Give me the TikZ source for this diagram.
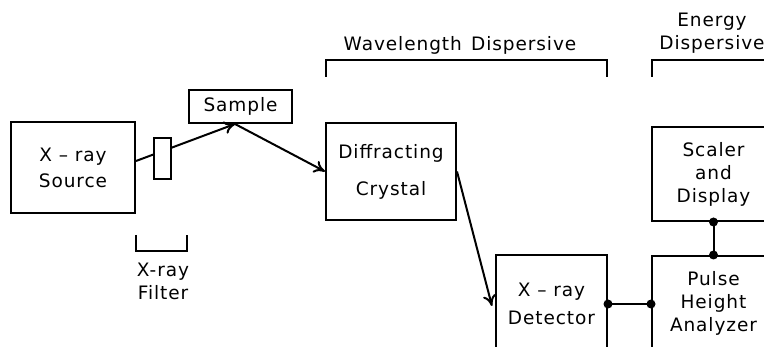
\documentclass[tikz,border=0pt]{standalone}
\usepackage{fontspec}
\setmainfont{DejaVu Sans}[LetterSpace=5]
\usetikzlibrary{arrows.meta}

\begin{document}
\begin{tikzpicture}[x=1pt,y=1pt,yscale=-1,xscale=1,
  line width=2pt,
  font=\fontsize{18.5}{23}\selectfont,
  blk/.style={draw,rectangle,inner sep=0pt,align=center},
  ray/.style={-{To[length=11pt,width=13pt]}},
  dot/.style={circle,fill,inner sep=0pt,minimum size=9pt}]
\clip (0,0) rectangle (764,347);

%Shape: Rectangle [X-ray source]
\node [blk,minimum width=124,minimum height=91] (src) at (73,167.5) {X -- ray\\[3pt]Source};
%Shape: Rectangle [sample]
\node [blk,minimum width=103,minimum height=33] (smp) at (240.5,106.5) {Sample};
%Shape: Rectangle [diffracting crystal]
\node [blk,minimum width=130,minimum height=97] (cry) at (391,171.5) {Diffracting\\[14pt]Crystal};
%Shape: Rectangle [detector]
\node [blk,minimum width=111,minimum height=98] (det) at (551.5,304) {X -- ray\\[5pt]Detector};
%Shape: Rectangle [scaler]
\node [blk,minimum width=123,minimum height=94] (scl) at (713.5,174) {Scaler\\and\\Display};
%Shape: Rectangle [pulse height analyzer]
\node [blk,minimum width=123,minimum height=94] (pha) at (713.5,303) {Pulse\\Height\\Analyzer};
\coordinate (hit) at ([xshift=-5.5pt]smp.south);

%Straight Lines [beam through the filter]
\draw [ray] ([yshift=-6.5pt]src.east) -- (hit);
%Shape: Rectangle [filter]
\node [blk,fill=white,minimum width=17,minimum height=41] (flt) at (162.5,158.5) {};
%Straight Lines
\draw [ray] (hit) -- (cry.west);
%Straight Lines
\draw [ray] (cry.east) -- ([xshift=-3pt,yshift=2pt]det.west);

%Straight Lines [signal]
\draw (det.east) -- (det.east -| pha.west);
\draw (scl.south) -- (pha.north);
\node [dot] (d1) at (det.east) {};
\node [dot] (d2) at (det.east -| pha.west) {};
\node [dot] (d3) at (scl.south) {};
\node [dot] (d4) at (pha.north) {};

%Shape: Brackets
\draw (136,235) -- (136,251) -- (187,251) -- (187,235);
\draw (326,77) -- (326,60) -- (607,60) -- (607,77);
\draw (652,77) -- (652,60) -- (780,60);

% Text Node
\node [align=center] (fll) at (163,281) {X-ray\\Filter};
% Text Node
\node (wdl) at (460,45) {Wavelength\hspace{0.5em}Dispersive};
% Text Node
\node [align=center] (edl) at (712,33.5) {Energy\\Dispersive};

\end{tikzpicture}
\end{document}
